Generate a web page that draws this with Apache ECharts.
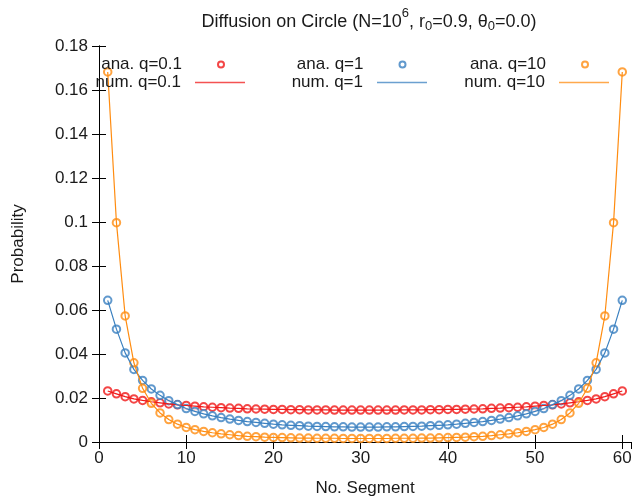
<!DOCTYPE html>
<html>
<head>
<meta charset="utf-8">
<script src="https://cdn.jsdelivr.net/npm/echarts@6/dist/echarts.min.js"></script>
<style>
html,body{margin:0;padding:0;background:#fff;}
#chart{width:637px;height:502px;}
</style>
</head>
<body>
<div id="chart"></div>
<script>
// Segment index 1..60
var segments = [];
for (var i = 1; i <= 60; i++) segments.push(i);

// q = 0.1 (red)
var probQ01 = [
  0.0232, 0.0219, 0.0206, 0.0196, 0.0189, 0.0183, 0.0178, 0.0173, 0.0169, 0.0166,
  0.0163, 0.0160, 0.0158, 0.0156, 0.0154, 0.0153, 0.0151, 0.0150, 0.0149, 0.0148,
  0.0148, 0.0147, 0.0147, 0.0146, 0.0146, 0.0146, 0.0145, 0.0145, 0.0145, 0.0145,
  0.0145, 0.0145, 0.0145, 0.0145, 0.0146, 0.0146, 0.0146, 0.0147, 0.0147, 0.0148,
  0.0148, 0.0149, 0.0150, 0.0151, 0.0153, 0.0154, 0.0156, 0.0158, 0.0160, 0.0163,
  0.0166, 0.0169, 0.0173, 0.0178, 0.0183, 0.0189, 0.0196, 0.0206, 0.0219, 0.0232
];
// q = 1 (blue)
var probQ1 = [
  0.0644, 0.0513, 0.0405, 0.0330, 0.0280, 0.0241, 0.0212, 0.0188, 0.0170, 0.0152,
  0.0139, 0.0128, 0.0119, 0.0111, 0.0104, 0.0098, 0.0093, 0.0089, 0.0085, 0.0081,
  0.0078, 0.0076, 0.0074, 0.0072, 0.0071, 0.0070, 0.0069, 0.0069, 0.0068, 0.0068,
  0.0068, 0.0068, 0.0069, 0.0069, 0.0070, 0.0071, 0.0072, 0.0074, 0.0076, 0.0078,
  0.0081, 0.0085, 0.0089, 0.0093, 0.0098, 0.0104, 0.0111, 0.0119, 0.0128, 0.0139,
  0.0152, 0.0170, 0.0188, 0.0212, 0.0241, 0.0280, 0.0330, 0.0405, 0.0513, 0.0644
];
// q = 10 (orange)
var probQ10 = [
  0.1682, 0.0997, 0.0573, 0.0360, 0.0244, 0.0176, 0.0132, 0.0102, 0.0081, 0.0066,
  0.0056, 0.0048, 0.0042, 0.0037, 0.0033, 0.0029, 0.0026, 0.0024, 0.0022, 0.0021,
  0.0020, 0.0019, 0.0018, 0.0018, 0.0017, 0.0017, 0.0017, 0.0016, 0.0016, 0.0016,
  0.0016, 0.0016, 0.0016, 0.0017, 0.0017, 0.0017, 0.0018, 0.0018, 0.0019, 0.0020,
  0.0021, 0.0022, 0.0024, 0.0026, 0.0029, 0.0033, 0.0037, 0.0042, 0.0048, 0.0056,
  0.0066, 0.0081, 0.0102, 0.0132, 0.0176, 0.0244, 0.0360, 0.0573, 0.0997, 0.1682
];

var xTicks = [0, 10, 20, 30, 40, 50, 60];
var yTicks = [0, 0.02, 0.04, 0.06, 0.08, 0.10, 0.12, 0.14, 0.16, 0.18];

var anaNames = ['ana. q=0.1', 'ana. q=1', 'ana. q=10'];
var numNames = ['num. q=0.1', 'num. q=1', 'num. q=10'];
var colors = ['#f01818', '#3a80c0', '#ff8c10'];
var dataSets = [probQ01, probQ1, probQ10];

var FONT = 'Liberation Sans';
var FS = 17;

function pairs(arr) {
  return segments.map(function (s, k) { return [s, arr[k]]; });
}

var series = [];
for (var k = 0; k < 3; k++) {
  series.push({
    name: anaNames[k], type: 'scatter', data: pairs(dataSets[k]),
    symbol: 'emptyCircle', symbolSize: 7.5,
    itemStyle: { color: colors[k], borderColor: colors[k], borderWidth: 1 },
    z: 2, silent: true
  });
}
for (var k2 = 0; k2 < 3; k2++) {
  series.push({
    name: numNames[k2], type: 'line', data: pairs(dataSets[k2]),
    showSymbol: false, symbol: 'none',
    lineStyle: { color: colors[k2], width: 1.2 },
    itemStyle: { color: colors[k2] },
    z: 3, silent: true
  });
}

// legend: text then sample (gnuplot style), positioned by sample centre
var anaCx = [220, 401.5, 584];
var numX0 = [195, 377, 559];
var legends = [];
for (var j = 0; j < 3; j++) {
  legends.push({
    data: [{ name: anaNames[j], icon: 'emptyCircle' }],
    align: 'right', padding: 0, itemWidth: 68, itemHeight: 6,
    right: 637 - (anaCx[j] + 34) + 29,
    top: 56,
    selectedMode: false,
    itemStyle: { borderWidth: 1 },
    textStyle: { fontFamily: FONT, fontSize: FS, color: '#1a1a1a' }
  });
  legends.push({
    data: [{ name: numNames[j], icon: 'rect' }],
    align: 'right', padding: 0, itemWidth: 50, itemHeight: 1.5,
    right: 637 - (numX0[j] + 50),
    top: 74,
    selectedMode: false,
    itemStyle: { opacity: 0.75 },
    textStyle: { fontFamily: FONT, fontSize: FS, color: '#1a1a1a', padding: [0, 9, 0, 0] }
  });
}

var axisLine = { show: true, lineStyle: { color: '#000', width: 1 } };
var tick = { show: true, inside: true, length: 7, lineStyle: { color: '#000', width: 1 } };

var option = {
  backgroundColor: '#fff',
  animation: false,
  title: {
    text: '{a|Diffusion on Circle (N=10}{sup|6}{a|, r}{sub|0}{a|=0.9, θ}{sub|0}{a|=0.0)}',
    left: 364, top: 2, textAlign: 'center',
    textStyle: {
      fontWeight: 'normal',
      rich: {
        a: { fontFamily: FONT, fontSize: 18, fontWeight: 'normal', color: '#1a1a1a', lineHeight: 26, verticalAlign: 'bottom', padding: [0, 0, 2, 0] },
        sup: { fontFamily: FONT, fontSize: 13, fontWeight: 'normal', color: '#1a1a1a', verticalAlign: 'top', lineHeight: 14 },
        sub: { fontFamily: FONT, fontSize: 13, fontWeight: 'normal', color: '#1a1a1a', verticalAlign: 'bottom', lineHeight: 14 }
      }
    }
  },
  legend: legends,
  grid: { left: 99, right: 6, top: 46, bottom: 57, containLabel: false },
  xAxis: [{
    type: 'value', min: 0, max: 61, interval: 10,
    name: 'No. Segment', nameLocation: 'middle', nameGap: 38,
    nameTextStyle: { fontFamily: FONT, fontSize: FS, color: '#1a1a1a' },
    axisLine: axisLine, axisTick: tick, splitLine: { show: false },
    axisLabel: { fontFamily: FONT, fontSize: FS, color: '#1a1a1a', margin: 8, showMaxLabel: false,
      formatter: function (v) { return xTicks.indexOf(v) >= 0 ? String(v) : ''; } }
  }, {
    type: 'value', min: 0, max: 61, interval: 10, position: 'top',
    axisLine: axisLine, axisTick: tick, splitLine: { show: false },
    axisLabel: { show: false }
  }],
  yAxis: [{
    type: 'value', min: 0, max: 0.18, interval: 0.02,
    name: 'Probability', nameLocation: 'middle', nameGap: 72,
    nameTextStyle: { fontFamily: FONT, fontSize: FS, color: '#1a1a1a' },
    axisLine: axisLine, axisTick: tick, splitLine: { show: false },
    axisLabel: { fontFamily: FONT, fontSize: FS, color: '#1a1a1a', margin: 11,
      formatter: function (v) {
        var idx = -1;
        for (var t = 0; t < yTicks.length; t++) if (Math.abs(yTicks[t] - v) < 1e-9) idx = t;
        return idx >= 0 ? String(+yTicks[idx].toFixed(2)) : '';
      } }
  }, {
    type: 'value', min: 0, max: 0.18, interval: 0.02, position: 'right',
    axisLine: axisLine, axisTick: tick, splitLine: { show: false },
    axisLabel: { show: false }
  }],
  series: series
};

var chart = echarts.init(document.getElementById('chart'), null, { renderer: 'canvas' });
chart.setOption(option);
</script>
</body>
</html>
